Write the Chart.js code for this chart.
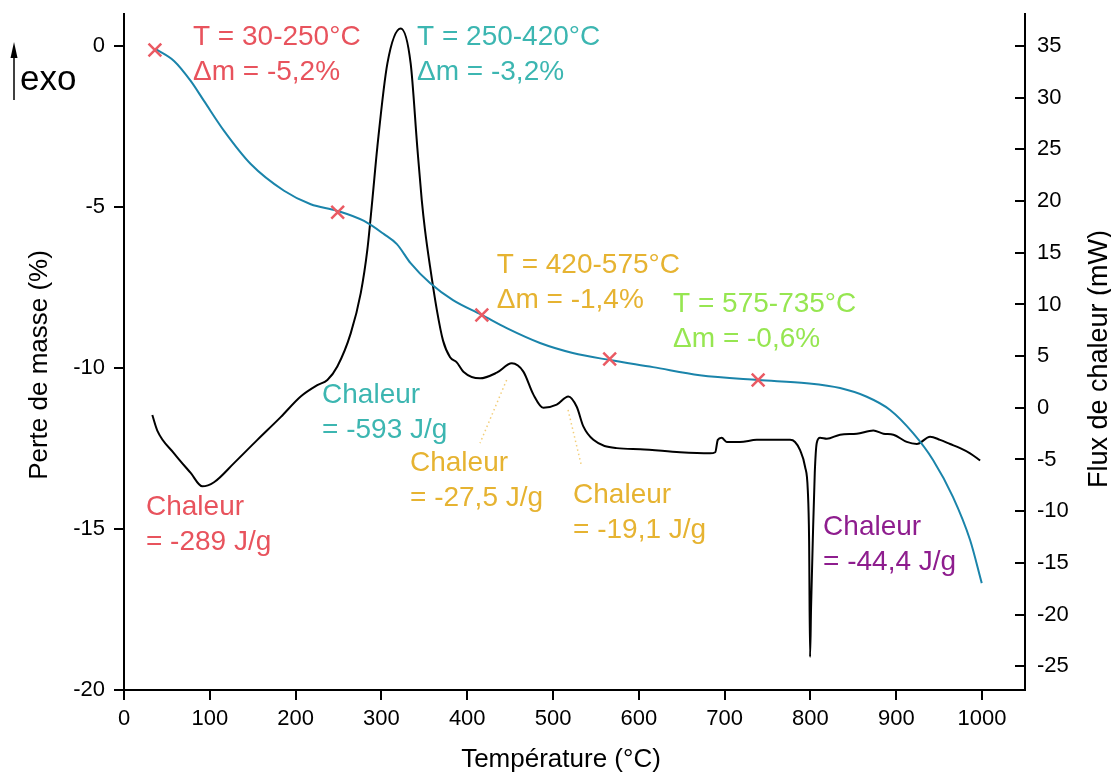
<!DOCTYPE html>
<html>
<head>
<meta charset="utf-8">
<script src="https://cdn.jsdelivr.net/npm/chart.js@4.4.0/dist/chart.umd.min.js"></script>
<style>
  html, body { margin: 0; padding: 0; background: #fff; }
  #wrap { width: 1111px; height: 775px; }
</style>
</head>
<body>
<div id="wrap"><canvas id="chart"></canvas></div>
<script>
// TG curve: temperature (°C) -> mass loss (%)
const tgTemp = [36.9, 58.3, 77.7, 93.2, 116.6, 147.7, 186.5, 217.6, 248, 279.7, 303, 318, 334, 356.6, 383.4,
  417, 446, 484.8, 523, 566, 616.5, 671, 739, 795.7, 834.5, 865.6, 892.8, 919.6, 943, 966, 986, 999.6];
const tgMass = [-0.09, -0.46, -1.08, -1.70, -2.63, -3.66, -4.49, -4.91, -5.11, -5.43, -5.84, -6.15, -6.74, -7.36, -7.89,
  -8.35, -8.76, -9.22, -9.53, -9.75, -9.97, -10.22, -10.37, -10.47, -10.62, -10.89, -11.30, -12.02, -12.86, -14.0, -15.34, -16.68];

// DSC curve: temperature (°C) -> heat flow (mW)
const dscTemp = [33, 38.8, 58.3, 77.7, 91.3, 104.9, 128.2, 155.4, 182.6, 205.9, 225.3, 237, 248.6, 264.2, 275.9,
  283.6, 289.4, 295.2, 306.9, 322.5, 334.1, 341.8, 347, 350.8, 356.6, 364.5, 371.8, 380, 387.8, 395.5, 414.9,
  434.4, 451.9, 465.4, 477, 488.7, 504.3, 517.8, 527.6, 535.3, 547, 574.2, 601.4, 648, 683, 689, 692, 696.5,
  702.4, 717.8, 737.4, 776.2, 782, 787.9, 793.7, 796.9, 798.4, 799.5, 800.7, 802.7, 805, 807.3, 811.2, 819,
  834.5, 854, 873.3, 885, 896.6, 912.2, 923.9, 939.4, 951, 962.7, 974.4, 986, 997.7];
const dscFlow = [-0.7, -2.2, -4.4, -6.3, -7.6, -7.2, -5.35, -3.1, -0.9, 1.1, 2.2, 2.7, 4.0, 7.2, 11.1,
  15.3, 20.1, 25.2, 33.3, 36.7, 33.3, 25.2, 20.1, 17.2, 13.7, 9.5, 6.5, 4.9, 4.4, 3.5, 2.85,
  3.4, 4.3, 3.5, 1.3, 0.0, 0.3, 1.1, 0.1, -1.8, -3.1, -3.9, -4.0, -4.3, -4.4, -4.3, -3.1, -2.9,
  -3.3, -3.3, -3.1, -3.1, -3.3, -4.1, -5.7, -8.0, -12.8, -24.1, -19.3, -12.8, -6.3, -3.4, -2.9, -3.0,
  -2.6, -2.5, -2.2, -2.5, -2.6, -3.3, -3.5, -2.8, -3.1, -3.5, -3.9, -4.4, -5.1];

// step limits marked on the TG curve
const stepTemp = [36, 249, 417, 566, 739];
const stepMass = [-0.12, -5.16, -8.35, -9.72, -10.37];

// annotation texts
const noteLines = [
  ['T = 30-250°C', 'Δm = -5,2%'],
  ['T = 250-420°C', 'Δm = -3,2%'],
  ['T = 420-575°C', 'Δm = -1,4%'],
  ['T = 575-735°C', 'Δm = -0,6%'],
  ['Chaleur', '= -593 J/g'],
  ['Chaleur', '= -27,5 J/g'],
  ['Chaleur', '= -19,1 J/g'],
  ['Chaleur', '= -289 J/g'],
  ['Chaleur', '= -44,4 J/g']
];
// anchor of each note (temperature, mass axis) and its colour
const noteAt = [[80.4, 0.28], [341.5, 0.28], [434.4, -6.8], [639.9, -8.01], [230.8, -10.84],
  [333.3, -12.95], [523.3, -13.94], [25.6, -14.32], [814.7, -14.94]];
const noteColor = ['#e8535d', '#3cb6b1', '#e6b331', '#96e651', '#3cb6b1', '#e6b331', '#e6b331', '#e8535d', '#8e1d8e'];

// dotted leaders from the small DSC peaks to their notes
const leaders = [[445.9, -10.37, 414.9, -12.33], [517.5, -11.3, 533.4, -13.07]];

const FONT = '"Liberation Sans", Arial, Helvetica, sans-serif';

const decor = {
  id: 'decor',
  afterDatasetsDraw(chart) {
    const {ctx, scales: {x, y}} = chart;
    ctx.save();
    // leaders
    ctx.strokeStyle = '#f2cd78';
    ctx.lineWidth = 1.5;
    ctx.setLineDash([1.5, 3]);
    leaders.forEach(l => {
      ctx.beginPath();
      ctx.moveTo(x.getPixelForValue(l[0]), y.getPixelForValue(l[1]));
      ctx.lineTo(x.getPixelForValue(l[2]), y.getPixelForValue(l[3]));
      ctx.stroke();
    });
    ctx.setLineDash([]);
    // notes
    ctx.font = '28px ' + FONT;
    ctx.textAlign = 'left';
    ctx.textBaseline = 'middle';
    noteLines.forEach((lines, i) => {
      ctx.fillStyle = noteColor[i];
      const px = x.getPixelForValue(noteAt[i][0]);
      const py = y.getPixelForValue(noteAt[i][1]);
      lines.forEach((s, k) => ctx.fillText(s, px, py + k * 35));
    });
    ctx.restore();
  },
  afterDraw(chart) {
    const {ctx, chartArea, scales: {y1}} = chart;
    ctx.save();
    // right axis ticks point inward
    ctx.strokeStyle = '#000';
    ctx.lineWidth = 2;
    y1.ticks.forEach(t => {
      const py = Math.round(y1.getPixelForValue(t.value));
      ctx.beginPath();
      ctx.moveTo(chartArea.right - 10, py);
      ctx.lineTo(chartArea.right, py);
      ctx.stroke();
    });
    // axis titles
    ctx.fillStyle = '#000';
    ctx.font = '26px ' + FONT;
    ctx.textAlign = 'center';
    ctx.textBaseline = 'middle';
    ctx.fillText('Température (°C)', 561, 760);
    ctx.save();
    ctx.translate(40, 365);
    ctx.rotate(-Math.PI / 2);
    ctx.fillText('Perte de masse (%)', 0, 0);
    ctx.restore();
    ctx.save();
    ctx.font = '27px ' + FONT;
    ctx.translate(1100, 359);
    ctx.rotate(-Math.PI / 2);
    ctx.fillText('Flux de chaleur (mW)', 0, 0);
    ctx.restore();
    // exo arrow
    ctx.lineWidth = 1.5;
    ctx.beginPath();
    ctx.moveTo(14, 100);
    ctx.lineTo(14, 55);
    ctx.stroke();
    ctx.beginPath();
    ctx.moveTo(14, 42);
    ctx.lineTo(10.5, 58);
    ctx.lineTo(17.5, 58);
    ctx.closePath();
    ctx.fill();
    ctx.font = '35px ' + FONT;
    ctx.textAlign = 'left';
    ctx.fillText('exo', 20, 80);
    ctx.restore();
  }
};

const tickFont = {family: FONT, size: 22};
const plain = v => String(v);
// fixed axis sizes, no extra room reserved for the end labels
const sideFit = w => s => { s.width = w; s.paddingTop = 0; s.paddingBottom = 0; };

new Chart(document.getElementById('chart'), {
  type: 'line',
  data: {
    datasets: [
      {
        label: 'Étapes',
        data: stepTemp.map((t, i) => ({x: t, y: stepMass[i]})),
        yAxisID: 'y',
        showLine: false,
        pointStyle: 'crossRot',
        pointRadius: 9,
        pointBorderWidth: 2.5,
        pointBorderColor: '#ea5a63',
        pointBackgroundColor: '#ea5a63',
        order: 0
      },
      {
        label: 'TG',
        data: tgTemp.map((t, i) => ({x: t, y: tgMass[i]})),
        yAxisID: 'y',
        borderColor: '#1a84aa',
        borderWidth: 2,
        pointRadius: 0,
        cubicInterpolationMode: 'monotone',
        order: 1
      },
      {
        label: 'DSC',
        data: dscTemp.map((t, i) => ({x: t, y: dscFlow[i]})),
        yAxisID: 'y1',
        borderColor: '#000',
        borderWidth: 2,
        pointRadius: 0,
        cubicInterpolationMode: 'monotone',
        order: 2
      }
    ]
  },
  options: {
    responsive: true,
    maintainAspectRatio: false,
    animation: false,
    layout: {padding: {top: 14, left: 0, right: 0, bottom: 0}},
    plugins: {legend: {display: false}, tooltip: {enabled: false}},
    scales: {
      x: {
        type: 'linear',
        position: 'bottom',
        min: 0,
        max: 1050,
        ticks: {stepSize: 100, includeBounds: false, font: tickFont, color: '#000', padding: 6, maxRotation: 0, callback: plain},
        grid: {drawOnChartArea: false, drawTicks: true, tickLength: 10, color: '#000', lineWidth: 2},
        border: {display: true, color: '#000', width: 2},
        afterFit: s => { s.height = 85; }
      },
      y: {
        type: 'linear',
        position: 'left',
        min: -20,
        max: 1,
        ticks: {stepSize: 5, includeBounds: false, font: tickFont, color: '#000', padding: 9, callback: plain},
        grid: {drawOnChartArea: false, drawTicks: true, tickLength: 10, color: '#000', lineWidth: 2},
        border: {display: true, color: '#000', width: 2},
        afterFit: sideFit(124)
      },
      y1: {
        type: 'linear',
        position: 'right',
        min: -27.3,
        max: 38.1,
        ticks: {stepSize: 5, includeBounds: false, font: tickFont, color: '#000', padding: 12, callback: plain},
        grid: {drawOnChartArea: false, drawTicks: false},
        border: {display: true, color: '#000', width: 2},
        afterFit: sideFit(86)
      }
    }
  },
  plugins: [decor]
});
</script>
</body>
</html>
